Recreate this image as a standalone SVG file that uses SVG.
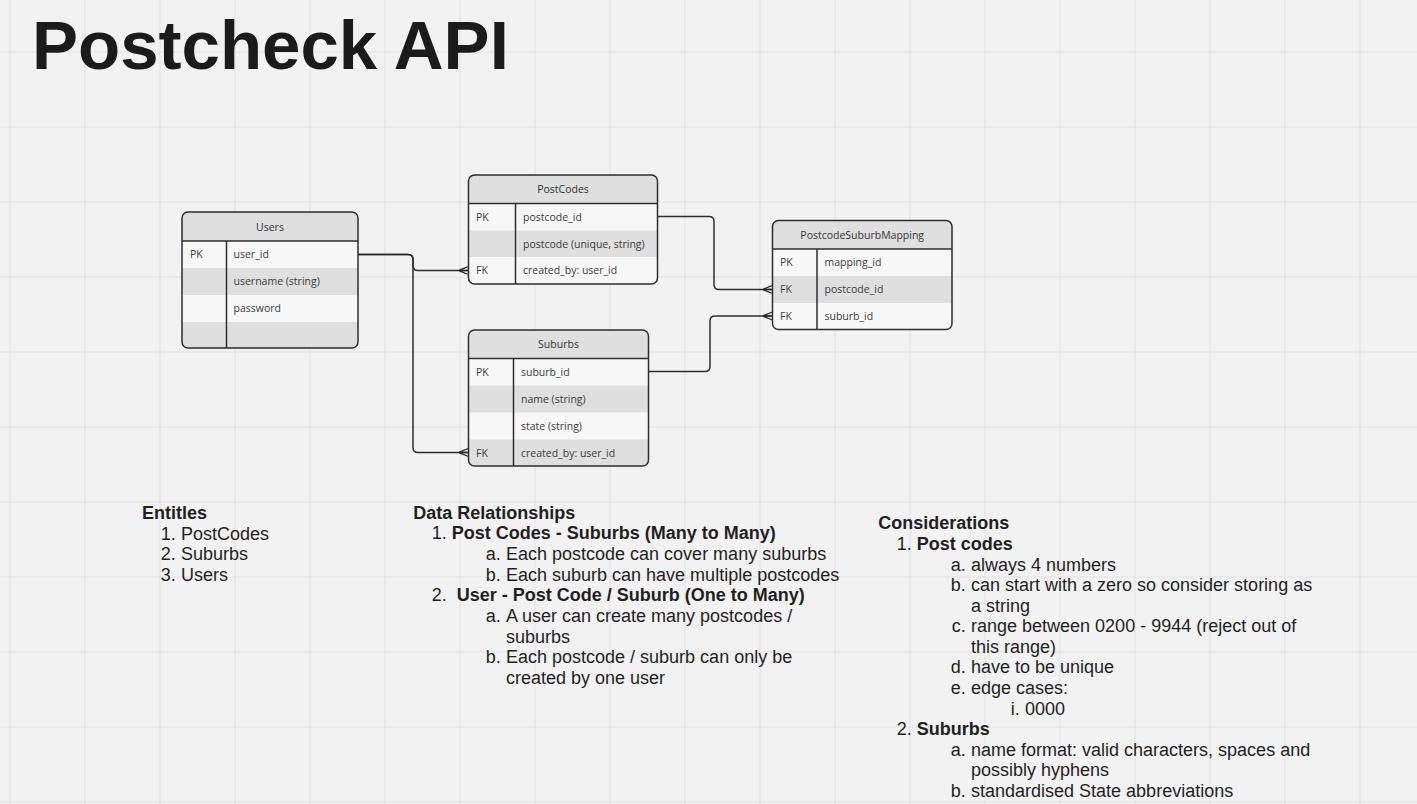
<svg xmlns="http://www.w3.org/2000/svg" width="1417" height="804" viewBox="0 0 1417 804">
<style>
.grid{stroke:#e2e2e2;stroke-width:1;fill:none}
.title{font-family:"Liberation Sans",Arial,sans-serif;font-weight:bold;font-size:69px;fill:#1b1b1b}
.outline{fill:none;stroke:#2e2e2e;stroke-width:1.5}
.light{fill:#f7f7f7}
.gray{fill:#dfdfdf}
.div{stroke:#2e2e2e;stroke-width:1.5}
.hd{font-family:"Open Sans","Noto Sans",sans-serif;font-size:10.5px;fill:#333;text-anchor:middle}
.cell{font-family:"Open Sans","Noto Sans",sans-serif;font-size:10.5px;fill:#3a3a3a}
.conn{fill:none;stroke:#2e2e2e;stroke-width:1.5;marker-end:url(#crow)}
.t{font-family:"Liberation Sans",Arial,sans-serif;font-size:18px;fill:#1f1f1f}
.b{font-weight:bold}
.m{text-anchor:end}
</style>
<defs>
<marker id="crow" viewBox="0 0 10 10" refX="10" refY="5" markerWidth="10" markerHeight="10" markerUnits="userSpaceOnUse" orient="auto">
<path d="M0,5 L10,1 M0,5 L10,9 M0,5 L10,5" fill="none" stroke="#2e2e2e" stroke-width="1.3"/>
</marker>
<clipPath id="cUsers"><rect x="182" y="212" width="176" height="136" rx="6"/></clipPath>
<clipPath id="cPost"><rect x="468.5" y="175" width="189" height="109" rx="6"/></clipPath>
<clipPath id="cMap"><rect x="772.5" y="220.5" width="179.5" height="109" rx="6"/></clipPath>
<clipPath id="cSub"><rect x="468.5" y="330" width="180" height="136" rx="6"/></clipPath>
</defs>
<rect width="1417" height="804" fill="#f2f2f2"/>
<path class="grid" d="M10,0V804M85,0V804M160,0V804M235,0V804M310,0V804M385,0V804M460,0V804M535,0V804M610,0V804M685,0V804M760,0V804M835,0V804M910,0V804M985,0V804M1060,0V804M1135,0V804M1210,0V804M1285,0V804M1360,0V804M0,52H1417M0,127H1417M0,202H1417M0,277H1417M0,352H1417M0,427H1417M0,502H1417M0,577H1417M0,652H1417M0,727H1417M0,802H1417"/>
<text class="title" x="32" y="69">Postcheck API</text>

<g id="connectors">
<path class="conn" d="M357.7,254.5 H408 Q413,254.5 413,259.5 V265.5 Q413,270.5 418,270.5 H468.5"/>
<path class="conn" d="M357.7,254.5 H408 Q413,254.5 413,259.5 V447.5 Q413,452.5 418,452.5 H468.5"/>
<path class="conn" d="M657.5,216.5 H709 Q714,216.5 714,221.5 V284.5 Q714,289.5 719,289.5 H772.5"/>
<path class="conn" d="M648.5,371.5 H705 Q710,371.5 710,366.5 V321 Q710,316 715,316 H772.5"/>
</g>

<g id="users">
<g clip-path="url(#cUsers)">
<rect class="light" x="182" y="212" width="176" height="136"/>
<rect class="gray" x="182" y="212" width="176" height="29"/>
<rect class="gray" x="182" y="268" width="176" height="27"/>
<rect class="gray" x="182" y="322" width="176" height="26"/>
</g>
<line class="div" x1="182" y1="241" x2="358" y2="241"/>
<line class="div" x1="226.5" y1="241" x2="226.5" y2="348"/>
<rect class="outline" x="182" y="212" width="176" height="136" rx="6"/>
<text class="hd" x="270" y="230.5">Users</text>
<text class="cell" x="190" y="258.3">PK</text>
<text class="cell" x="233.5" y="258.3">user_id</text>
<text class="cell" x="233.5" y="285.3">username (string)</text>
<text class="cell" x="233.5" y="312.3">password</text>
</g>

<g id="postcodes">
<g clip-path="url(#cPost)">
<rect class="light" x="468.5" y="175" width="189" height="109"/>
<rect class="gray" x="468.5" y="175" width="189" height="28.5"/>
<rect class="gray" x="468.5" y="230.5" width="189" height="26.5"/>
</g>
<line class="div" x1="468.5" y1="203.5" x2="657.5" y2="203.5"/>
<line class="div" x1="515.5" y1="203.5" x2="515.5" y2="284"/>
<rect class="outline" x="468.5" y="175" width="189" height="109" rx="6"/>
<text class="hd" x="563" y="193">PostCodes</text>
<text class="cell" x="476" y="220.8">PK</text>
<text class="cell" x="523" y="220.8">postcode_id</text>
<text class="cell" x="523" y="247.6">postcode (unique, string)</text>
<text class="cell" x="476" y="274.3">FK</text>
<text class="cell" x="523" y="274.3">created_by: user_id</text>
</g>

<g id="mapping">
<g clip-path="url(#cMap)">
<rect class="light" x="772.5" y="220.5" width="179.5" height="109"/>
<rect class="gray" x="772.5" y="220.5" width="179.5" height="28.5"/>
<rect class="gray" x="772.5" y="276" width="179.5" height="27"/>
</g>
<line class="div" x1="772.5" y1="249" x2="952" y2="249"/>
<line class="div" x1="817" y1="249" x2="817" y2="329.5"/>
<rect class="outline" x="772.5" y="220.5" width="179.5" height="109" rx="6"/>
<text class="hd" x="862.2" y="238.5">PostcodeSuburbMapping</text>
<text class="cell" x="780" y="266.3">PK</text>
<text class="cell" x="824.5" y="266.3">mapping_id</text>
<text class="cell" x="780" y="293.3">FK</text>
<text class="cell" x="824.5" y="293.3">postcode_id</text>
<text class="cell" x="780" y="320">FK</text>
<text class="cell" x="824.5" y="320">suburb_id</text>
</g>

<g id="suburbs">
<g clip-path="url(#cSub)">
<rect class="light" x="468.5" y="330" width="180" height="136"/>
<rect class="gray" x="468.5" y="330" width="180" height="28.5"/>
<rect class="gray" x="468.5" y="385.5" width="180" height="27"/>
<rect class="gray" x="468.5" y="439.5" width="180" height="26.5"/>
</g>
<line class="div" x1="468.5" y1="358.5" x2="648.5" y2="358.5"/>
<line class="div" x1="513.5" y1="358.5" x2="513.5" y2="466"/>
<rect class="outline" x="468.5" y="330" width="180" height="136" rx="6"/>
<text class="hd" x="558.5" y="348">Suburbs</text>
<text class="cell" x="476" y="375.8">PK</text>
<text class="cell" x="521" y="375.8">suburb_id</text>
<text class="cell" x="521" y="402.8">name (string)</text>
<text class="cell" x="521" y="429.8">state (string)</text>
<text class="cell" x="476" y="456.5">FK</text>
<text class="cell" x="521" y="456.5">created_by: user_id</text>
</g>

<g id="entities">
<text class="t b" x="142" y="519">Entitles</text>
<text class="t m" x="175.7" y="539.5">1.</text><text class="t" x="181" y="539.5">PostCodes</text>
<text class="t m" x="175.7" y="560">2.</text><text class="t" x="181" y="560">Suburbs</text>
<text class="t m" x="175.7" y="580.7">3.</text><text class="t" x="181" y="580.7">Users</text>
</g>

<g id="relationships">
<text class="t b" x="413.3" y="519">Data Relationships</text>
<text class="t m" x="446.7" y="539.3">1.</text><text class="t b" x="451.7" y="539.3">Post Codes - Suburbs (Many to Many)</text>
<text class="t m" x="500.7" y="560">a.</text><text class="t" x="506" y="560">Each postcode can cover many suburbs</text>
<text class="t m" x="500.7" y="580.7">b.</text><text class="t" x="506" y="580.7">Each suburb can have multiple postcodes</text>
<text class="t m" x="446.7" y="601.3">2.</text><text class="t b" x="456.7" y="601.3">User - Post Code / Suburb (One to Many)</text>
<text class="t m" x="500.7" y="622">a.</text><text class="t" x="506" y="622">A user can create many postcodes /</text>
<text class="t" x="506" y="642.5">suburbs</text>
<text class="t m" x="500.7" y="663">b.</text><text class="t" x="506" y="663">Each postcode / suburb can only be</text>
<text class="t" x="506" y="683.5">created by one user</text>
</g>

<g id="considerations">
<text class="t b" x="878.3" y="529">Considerations</text>
<text class="t m" x="911.7" y="550">1.</text><text class="t b" x="916.7" y="550">Post codes</text>
<text class="t m" x="965.7" y="570.5">a.</text><text class="t" x="971" y="570.5">always 4 numbers</text>
<text class="t m" x="965.7" y="591">b.</text><text class="t" x="971" y="591">can start with a zero so consider storing as</text>
<text class="t" x="971" y="611.7">a string</text>
<text class="t m" x="965.7" y="632.3">c.</text><text class="t" x="971" y="632.3">range between 0200 - 9944 (reject out of</text>
<text class="t" x="971" y="652.8">this range)</text>
<text class="t m" x="965.7" y="673.4">d.</text><text class="t" x="971" y="673.4">have to be unique</text>
<text class="t m" x="965.7" y="694">e.</text><text class="t" x="971" y="694">edge cases:</text>
<text class="t m" x="1019.7" y="714.5">i.</text><text class="t" x="1025" y="714.5">0000</text>
<text class="t m" x="911.7" y="735">2.</text><text class="t b" x="916.7" y="735">Suburbs</text>
<text class="t m" x="965.7" y="755.6">a.</text><text class="t" x="971" y="755.6">name format: valid characters, spaces and</text>
<text class="t" x="971" y="776.2">possibly hyphens</text>
<text class="t m" x="965.7" y="796.8">b.</text><text class="t" x="971" y="796.8">standardised State abbreviations</text>
</g>
</svg>
